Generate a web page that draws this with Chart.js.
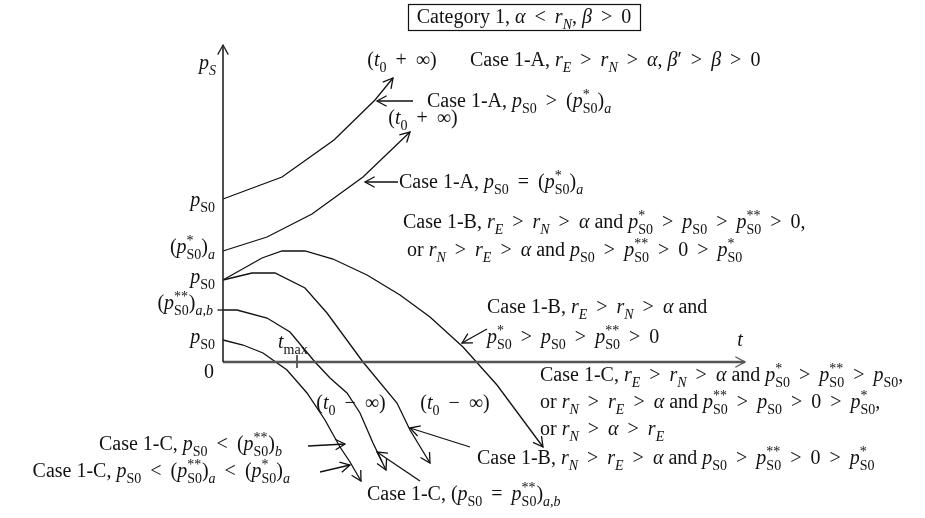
<!DOCTYPE html>
<html>
<head>
<meta charset="utf-8">
<script src="https://cdn.jsdelivr.net/npm/chart.js@4.4.1/dist/chart.umd.min.js"></script>
<style>
  html, body { margin: 0; padding: 0; background: #fff; }
  canvas { display: block; }
</style>
</head>
<body>
<canvas id="phaseChart" width="925" height="518"></canvas>
<script>
// trajectories p_S(t), one t list and one p list per case
const tCaseAHigh = [0, 5.9, 11.1, 15.2, 17.0];
const pCaseAHigh = [16.3, 18.5, 22.2, 26.2, 28.4];

const tCaseAEqual = [0, 4.4, 8.9, 14.0, 18.7];
const pCaseAEqual = [11.1, 12.5, 14.8, 18.5, 23.0];

const tCaseBRise = [0, 3.9, 5.9, 8.2, 11.0, 14.4, 17.7, 20.7, 24.0, 27.4, 32.0];
const pCaseBRise = [8.2, 10.4, 11.1, 11.1, 10.3, 8.7, 6.7, 4.5, 1.5, -2.3, -8.5];

const tCaseBFall = [0, 2.9, 5.2, 8.2, 10.4, 14.0, 17.4, 18.7, 20.7];
const pCaseBFall = [8.2, 8.9, 8.9, 7.4, 4.9, 0, -4.1, -6.8, -10.1];

const tCaseCEqual = [0, 1.4, 4.4, 6.7, 9.2, 10.7, 12.4, 13.7, 15.0, 16.3];
const pCaseCEqual = [5.2, 5.2, 4.4, 3.0, 0, -1.6, -3.1, -5.1, -8.1, -10.8];

const tCaseCLow = [0, 2.0, 4.0, 6.4, 8.4, 10.2, 11.7, 12.7, 13.8];
const pCaseCLow = [2.2, 1.7, 0.9, -0.8, -3.1, -5.8, -8.5, -10.0, -11.9];

// axis extents and marks
const tAxisEnd = 52.2;
const pAxisEnd = 31.7;
const tMax = 7.4;
const pStarStar = 5.2;

// pointer arrows from the case notes to the curves: [from, to]
const pointerT = [[19.0, 15.4], [17.5, 14.2], [26.4, 23.9], [8.5, 12.2], [9.7, 12.7], [19.7, 15.4], [24.7, 18.7]];
const pointerP = [[26.1, 26.1], [18.0, 18.0], [3.3, 1.9], [-8.4, -8.2], [-11.0, -10.3], [-11.9, -9.0], [-8.5, -6.6]];

const FONT = '"Liberation Serif", "DejaVu Serif", serif';
const INK = "#111";
const SIZE = 20;

// text notes: $..$ italic, _{..} subscript, ^{..} superscript
const notes = [
    { s: "$p$_{$S$}", t: -0.7, p: 29.9, align: "right" },
    { s: "($t$_{0} + ∞)", t: 17.9, p: 30.2, align: "center" },
    { s: "Case 1-A, $r$_{$E$} > $r$_{$N$} > $α$, $β$′ > $β$ > 0", t: 24.7, p: 30.2, align: "left" },
    { s: "Case 1-A, $p$_{S0} > ($p$^{*}_{S0})_{$a$}", t: 20.4, p: 26.1, align: "left" },
    { s: "($t$_{0} + ∞)", t: 20.0, p: 24.4, align: "center" },
    { s: "Case 1-A, $p$_{S0} = ($p$^{*}_{S0})_{$a$}", t: 17.6, p: 18.0, align: "left" },
    { s: "Case 1-B, $r$_{$E$} > $r$_{$N$} > $α$ and $p$^{*}_{S0} > $p$_{S0} > $p$^{**}_{S0} > 0,", t: 18.0, p: 14.0, align: "left" },
    { s: "or $r$_{$N$} > $r$_{$E$} > $α$ and $p$_{S0} > $p$^{**}_{S0} > 0 > $p$^{*}_{S0}", t: 18.4, p: 11.2, align: "left" },
    { s: "Case 1-B, $r$_{$E$} > $r$_{$N$} > $α$ and", t: 26.4, p: 5.5, align: "left" },
    { s: "$p$^{*}_{S0} > $p$_{S0} > $p$^{**}_{S0} > 0", t: 26.4, p: 2.5, align: "left" },
    { s: "$t$", t: 51.7, p: 2.2, align: "center" },
    { s: "$t$_{max}", t: 5.5, p: 2.0, align: "left" },
    { s: "0", t: -0.9, p: -1.0, align: "right" },
    { s: "$p$_{S0}", t: -0.8, p: 16.2, align: "right" },
    { s: "($p$^{*}_{S0})_{$a$}", t: -0.8, p: 11.5, align: "right" },
    { s: "$p$_{S0}", t: -0.8, p: 8.5, align: "right" },
    { s: "($p$^{**}_{S0})_{$a,b$}", t: -1.0, p: 5.9, align: "right" },
    { s: "$p$_{S0}", t: -0.8, p: 2.5, align: "right" },
    { s: "Case 1-C, $r$_{$E$} > $r$_{$N$} > $α$ and $p$^{*}_{S0} > $p$^{**}_{S0} > $p$_{S0},", t: 31.7, p: -1.3, align: "left" },
    { s: "or $r$_{$N$} > $r$_{$E$} > $α$ and $p$^{**}_{S0} > $p$_{S0} > 0 > $p$^{*}_{S0},", t: 31.7, p: -4.0, align: "left" },
    { s: "or $r$_{$N$} > $α$ > $r$_{$E$}", t: 31.7, p: -6.7, align: "left" },
    { s: "($t$_{0} − ∞)", t: 12.8, p: -4.1, align: "center" },
    { s: "($t$_{0} − ∞)", t: 23.2, p: -4.1, align: "center" },
    { s: "Case 1-B, $r$_{$N$} > $r$_{$E$} > $α$ and $p$_{S0} > $p$^{**}_{S0} > 0 > $p$^{*}_{S0}", t: 25.4, p: -9.6, align: "left" },
    { s: "Case 1-C, ($p$_{S0} = $p$^{**}_{S0})_{$a,b$}", t: 14.4, p: -13.2, align: "left" },
    { s: "Case 1-C, $p$_{S0} < ($p$^{**}_{S0})_{$b$}", t: 5.9, p: -8.2, align: "right" },
    { s: "Case 1-C, $p$_{S0} < ($p$^{**}_{S0})_{$a$} < ($p$^{*}_{S0})_{$a$}", t: 6.7, p: -10.9, align: "right" }
];

const boxedTitle = { s: "Category 1, $α$ < $r$_{$N$}, $β$ > 0", t: 30.1, p: 34.5 };

// wider gaps round relation signs, as in typeset maths
function spaceOps(s) {
    return s.replace(/ ([<>=+−]) /g, " \u2009$1\u2009 ");
}

function parseRich(s) {
    s = spaceOps(s);
    const runs = [];
    let italic = false;
    let buf = "";
    const flush = () => {
        if (buf) {
            runs.push({ text: buf, italic: italic, kind: "n" });
            buf = "";
        }
    };
    for (let i = 0; i < s.length; i++) {
        const c = s[i];
        if (c === "$") {
            flush();
            italic = !italic;
            continue;
        }
        if ((c === "_" || c === "^") && s[i + 1] === "{") {
            flush();
            const end = s.indexOf("}", i);
            const inner = s.slice(i + 2, end);
            const kind = c === "_" ? "sub" : "sup";
            const prev = runs[runs.length - 1];
            runs.push({
                text: inner.replace(/\$/g, ""),
                italic: inner.includes("$"),
                kind: kind,
                stack: !!(prev && prev.kind !== "n" && prev.kind !== kind && !prev.stack)
            });
            i = end;
            continue;
        }
        buf += c;
    }
    flush();
    return runs;
}

function drawRich(ctx, s, x, y, align, size) {
    const runs = parseRich(s);
    const small = Math.round(size * 0.7);
    const fontOf = r => (r.italic ? "italic " : "") + (r.kind === "n" ? size : small) + "px " + FONT;

    let cx = 0, lastStart = 0, lastW = 0;
    const placed = [];
    runs.forEach(r => {
        ctx.font = fontOf(r);
        const w = ctx.measureText(r.text).width;
        if (r.stack) {
            placed.push({ r: r, x: lastStart });
            cx = lastStart + Math.max(lastW, w);
        } else {
            placed.push({ r: r, x: cx });
            lastStart = cx;
            lastW = w;
            cx += w;
        }
    });

    const total = cx;
    const x0 = align === "right" ? x - total : align === "center" ? x - total / 2 : x;
    const base = y + size * 0.32;

    ctx.textAlign = "left";
    ctx.textBaseline = "alphabetic";
    ctx.fillStyle = INK;
    placed.forEach(pl => {
        ctx.font = fontOf(pl.r);
        const dy = pl.r.kind === "sub" ? size * 0.28 : pl.r.kind === "sup" ? -size * 0.42 : 0;
        ctx.fillText(pl.r.text, x0 + pl.x, base + dy);
    });
    return { x0: x0, width: total };
}

function toPoints(ts, ps) {
    return ts.map((t, i) => ({ x: t, y: ps[i] }));
}

function curve(ts, ps, extra) {
    return Object.assign({
        data: toPoints(ts, ps),
        showLine: true,
        borderColor: INK,
        borderWidth: 1.3,
        pointRadius: 0,
        tension: 0,
        arrow: true
    }, extra || {});
}

const datasets = [
    curve([0, 0], [0, pAxisEnd], { borderColor: "#222", borderWidth: 1.6 }),
    curve([0, tAxisEnd], [0, 0], { borderColor: "#555", borderWidth: 2.4 }),
    curve([tMax, tMax], [-0.6, 0.7], { arrow: false }),
    curve([-0.55, 0], [pStarStar, pStarStar], { arrow: false }),
    curve(tCaseAHigh, pCaseAHigh),
    curve(tCaseAEqual, pCaseAEqual),
    curve(tCaseBRise, pCaseBRise),
    curve(tCaseBFall, pCaseBFall),
    curve(tCaseCEqual, pCaseCEqual),
    curve(tCaseCLow, pCaseCLow)
];

pointerT.forEach((ts, i) => datasets.push(curve(ts, pointerP[i])));

// open arrow heads at the last point of each flagged dataset
const arrowHeads = {
    id: "arrowHeads",
    afterDatasetsDraw(chart) {
        const ctx = chart.ctx;
        chart.data.datasets.forEach((ds, i) => {
            if (!ds.arrow) return;
            const pts = chart.getDatasetMeta(i).data;
            const a = pts[pts.length - 2];
            const b = pts[pts.length - 1];
            const ang = Math.atan2(b.y - a.y, b.x - a.x);
            const len = 11;
            const spread = 0.5;
            ctx.save();
            ctx.strokeStyle = ds.borderColor;
            ctx.lineWidth = 1.3;
            ctx.beginPath();
            ctx.moveTo(b.x - len * Math.cos(ang - spread), b.y - len * Math.sin(ang - spread));
            ctx.lineTo(b.x, b.y);
            ctx.lineTo(b.x - len * Math.cos(ang + spread), b.y - len * Math.sin(ang + spread));
            ctx.stroke();
            ctx.restore();
        });
    }
};

const noteLabels = {
    id: "noteLabels",
    afterDraw(chart) {
        const ctx = chart.ctx;
        const xs = chart.scales.x;
        const ys = chart.scales.y;
        ctx.save();
        notes.forEach(n => {
            drawRich(ctx, n.s, xs.getPixelForValue(n.t), ys.getPixelForValue(n.p), n.align, SIZE);
        });

        const cx = xs.getPixelForValue(boxedTitle.t);
        const cy = ys.getPixelForValue(boxedTitle.p);
        const m = drawRich(ctx, boxedTitle.s, cx, cy, "center", SIZE);
        ctx.strokeStyle = INK;
        ctx.lineWidth = 1.2;
        ctx.strokeRect(Math.round(m.x0 - 9) + 0.5, Math.round(cy - 13) + 0.5, Math.round(m.width + 18), 26);
        ctx.restore();
    }
};

new Chart(document.getElementById("phaseChart"), {
    type: "scatter",
    data: { datasets: datasets },
    options: {
        responsive: false,
        animation: false,
        layout: { padding: 0 },
        scales: {
            x: { type: "linear", min: -22.3, max: 70.2, display: false },
            y: { type: "linear", min: -15.6, max: 36.2, display: false }
        },
        plugins: {
            legend: { display: false },
            tooltip: { enabled: false }
        }
    },
    plugins: [arrowHeads, noteLabels]
});
</script>
</body>
</html>
